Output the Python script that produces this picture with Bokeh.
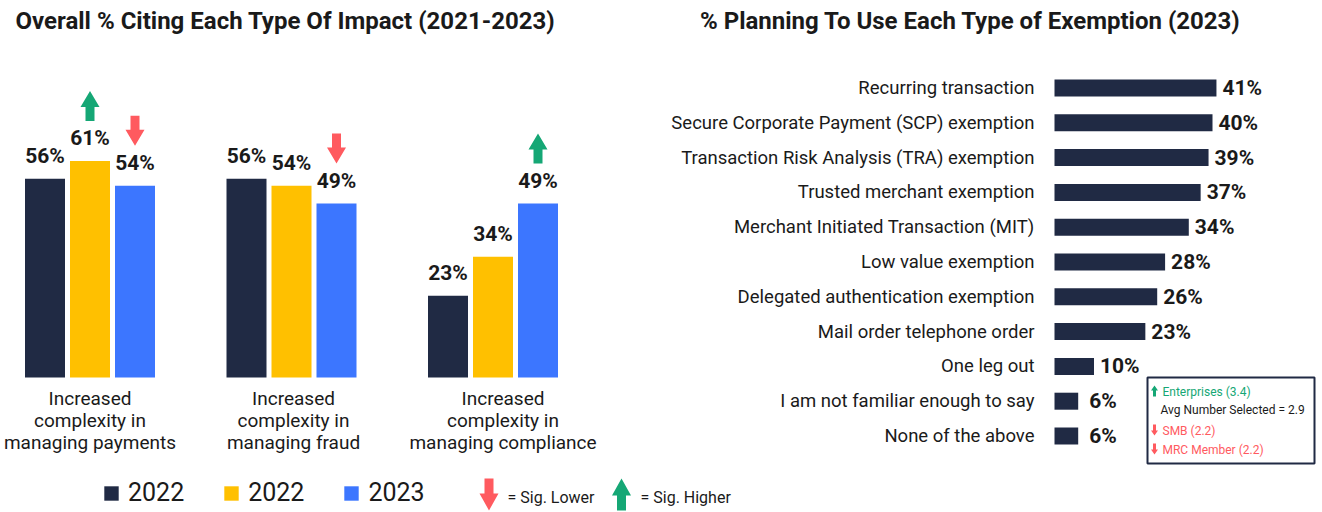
from bokeh.plotting import figure
from bokeh.models import Range1d, Label, Legend, LegendItem, ColumnDataSource
from bokeh.core.properties import value
from bokeh.embed import file_html
from bokeh.resources import INLINE

FONT = "Roboto"
DARK = "#202A44"
YELLOW = "#FFC000"
BLUE = "#3C76FF"
GREEN = "#15A775"
RED = "#FF5A5F"
TEXT = "#1A1A1A"

# ---------------- data: left chart ----------------
impact_categories = [
    "Increased\ncomplexity in\nmanaging payments",
    "Increased\ncomplexity in\nmanaging fraud",
    "Increased\ncomplexity in\nmanaging compliance",
]
series_labels = ["2022", "2022", "2023"]
impact_first = [56, 56, 23]
impact_second = [61, 54, 34]
impact_third = [54, 49, 49]
sig_first = ["", "", ""]
sig_second = ["up", "", ""]
sig_third = ["down", "down", "up"]

# ---------------- data: right chart ----------------
exemptions = [
    "Recurring transaction",
    "Secure Corporate Payment (SCP) exemption",
    "Transaction Risk Analysis (TRA) exemption",
    "Trusted merchant exemption",
    "Merchant Initiated Transaction (MIT)",
    "Low value exemption",
    "Delegated authentication exemption",
    "Mail order telephone order",
    "One leg out",
    "I am not familiar enough to say",
    "None of the above",
]
exemption_pct = [41, 40, 39, 37, 34, 28, 26, 23, 10, 6, 6]
note_texts = ["Enterprises (3.4)", "Avg Number Selected = 2.9", "SMB (2.2)", "MRC Member (2.2)"]
note_sig = ["up", "", "down", "down"]

W, H = 1322, 512


def arrow_px(direction, top, bottom, head_w, head_len, shaft_w):
    """Arrow outline in pixel offsets (dx, dy measured downward)."""
    hw, sw = head_w / 2, shaft_w / 2
    if direction == "up":
        return [(0, top), (hw, top + head_len), (sw, top + head_len), (sw, bottom),
                (-sw, bottom), (-sw, top + head_len), (-hw, top + head_len)]
    return [(0, bottom), (hw, bottom - head_len), (sw, bottom - head_len), (sw, top),
            (-sw, top), (-sw, bottom - head_len), (-hw, bottom - head_len)]


# ---- scales (left chart: default ranges; right chart: extra ranges "r") ----
LPX_X = 201.5   # px per group
LPX_Y = 3.55    # px per percent
LX0 = 89.5      # px of group 0 centre
LY0 = 377.0     # px from top of 0%

RPX_X = 3.95    # px per percent
RX0 = 1054.0    # px of 0%
STEP = 34.8     # px per row
RY0 = 87.5      # px from top of row 0 centre

p = figure(width=W, height=H, output_backend="svg", toolbar_location=None,
           x_range=Range1d(-LX0 / LPX_X, (W - LX0) / LPX_X),
           y_range=Range1d(-(H - LY0) / LPX_Y, LY0 / LPX_Y),
           x_axis_location=None, y_axis_location=None, min_border=0)
p.extra_x_ranges = {"r": Range1d(-RX0 / RPX_X, (W - RX0) / RPX_X)}
p.extra_y_ranges = {"r": Range1d((H - RY0) / STEP, -RY0 / STEP)}
p.grid.visible = False
p.outline_line_color = None
p.background_fill_color = "white"


def l_px(px, py):
    return (px - LX0) / LPX_X, (LY0 - py) / LPX_Y


def r_px(px, py):
    return (px - RX0) / RPX_X, (py - RY0) / STEP


# ================= LEFT CHART =================
bar_w = 40 / LPX_X
offsets = [-45.0 / LPX_X, 0.0, 45.0 / LPX_X]
colors = [DARK, YELLOW, BLUE]
items = []
for series, sig, off, col, lab in zip([impact_first, impact_second, impact_third],
                                      [sig_first, sig_second, sig_third],
                                      offsets, colors, series_labels):
    xs = [i + off for i in range(len(series))]
    r = p.vbar(x=xs, top=series, bottom=0, width=bar_w, fill_color=col, line_color=None)
    items.append(LegendItem(label=lab, renderers=[r]))
    p.text(x=xs, y=series, text=[f"{v}%" for v in series], text_font=value(FONT),
           text_font_style="bold", text_font_size="21px", text_align="center",
           text_baseline="alphabetic", y_offset=-23, text_color=TEXT)
    pxs, pys, pcs = [], [], []
    for x, v, s in zip(xs, series, sig):
        if not s:
            continue
        pts = arrow_px(s, -70, -40, 19, 16, 9)
        pxs.append([x + dx / LPX_X for dx, dy in pts])
        pys.append([v - dy / LPX_Y for dx, dy in pts])
        pcs.append(GREEN if s == "up" else RED)
    if pxs:
        p.patches(xs=pxs, ys=pys, fill_color=pcs, line_color=None)

cat_src = ColumnDataSource(dict(x=list(range(len(impact_categories))),
                                y=[0] * len(impact_categories),
                                text=impact_categories,
                                nudge=[0, 2, 10]))
p.text(x="x", y="y", text="text", x_offset="nudge", source=cat_src,
       text_font=value(FONT), text_font_size="19px",
       text_align="center", text_baseline="top", y_offset=9, text_line_height=0.97,
       text_color=TEXT)

legend = Legend(items=items, orientation="horizontal", location=(102, 5),
                label_text_font=FONT, label_text_font_size="25px", label_text_color=TEXT,
                glyph_width=18, glyph_height=18, label_standoff=8, spacing=38,
                padding=0, margin=0, border_line_color=None, background_fill_alpha=0)
p.add_layout(legend)

for cx, direction, txt, tx in [(488.5, "down", "= Sig. Lower", 507),
                               (621.0, "up", "= Sig. Higher", 640)]:
    pts = arrow_px(direction, 478, 510, 19, 17, 9)
    xs_, ys_ = zip(*[l_px(cx + dx, dy) for dx, dy in pts])
    p.patch(x=list(xs_), y=list(ys_), fill_color=GREEN if direction == "up" else RED,
            line_color=None)
    p.add_layout(Label(x=tx, y=H - 497, x_units="screen", y_units="screen",
                       text=txt, text_font=FONT, text_font_size="16px",
                       text_baseline="middle", text_color=TEXT))

p.add_layout(Label(x=15, y=H - 20, x_units="screen", y_units="screen",
                   text="Overall % Citing Each Type Of Impact (2021-2023)",
                   text_font=FONT, text_font_style="bold", text_font_size="24px",
                   text_baseline="middle", text_color=TEXT))

# ================= RIGHT CHART =================
idx = list(range(len(exemptions)))
p.hbar(y=idx, left=0, right=exemption_pct, height=17 / STEP, fill_color=DARK, line_color=None,
       x_range_name="r", y_range_name="r")
p.text(x=[0] * len(idx), y=idx, text=exemptions, text_font=value(FONT), text_font_size="18.5px",
       text_align="right", text_baseline="middle", x_offset=-20, text_color=TEXT,
       x_range_name="r", y_range_name="r")
p.text(x=exemption_pct, y=idx, text=[f"{v}%" for v in exemption_pct], text_font=value(FONT),
       text_font_style="bold", text_font_size="21px", text_align="left",
       text_baseline="middle", x_offset=[6 if v >= 10 else 11 for v in exemption_pct],
       text_color=TEXT, x_range_name="r", y_range_name="r")

bl, bt = r_px(1147, 377)
br, bb = r_px(1314, 463)
p.quad(left=[bl], right=[br], top=[bt], bottom=[bb], fill_color="white",
       line_color=DARK, line_width=2, x_range_name="r", y_range_name="r")

note_y = [391, 409, 430, 449]
for txt, s, ny in zip(note_texts, note_sig, note_y):
    col = GREEN if s == "up" else (RED if s == "down" else TEXT)
    tx = 1162 if s else 1160
    p.add_layout(Label(x=tx, y=H - ny, x_units="screen", y_units="screen",
                       text=txt, text_font=FONT, text_font_size="12px",
                       text_baseline="middle", text_color=col))
    if s:
        pts = arrow_px(s, ny - 6, ny + 5, 7, 5, 3)
        xs_, ys_ = zip(*[r_px(1154 + dx, dy) for dx, dy in pts])
        p.patch(x=list(xs_), y=list(ys_), fill_color=col, line_color=None,
                x_range_name="r", y_range_name="r")

p.add_layout(Label(x=970, y=H - 20, x_units="screen", y_units="screen",
                   text="% Planning To Use Each Type of Exemption (2023)",
                   text_font=FONT, text_font_style="bold", text_font_size="24px",
                   text_align="center", text_baseline="middle", text_color=TEXT))

open("out.html", "w").write(file_html(p, INLINE))
